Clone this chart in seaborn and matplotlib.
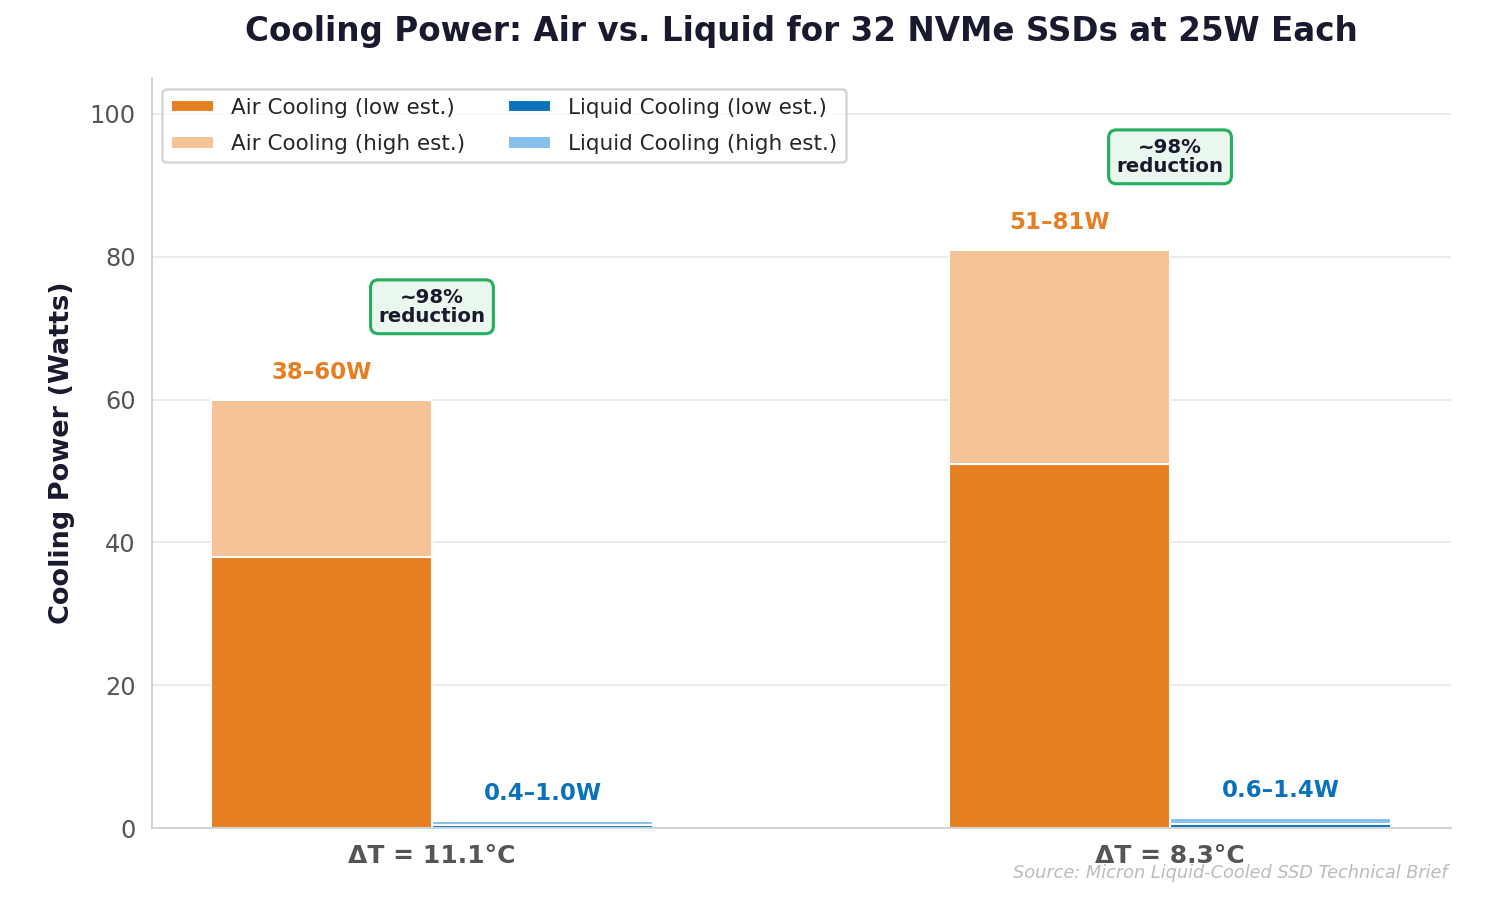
import matplotlib
matplotlib.use("Agg")

import matplotlib.pyplot as plt
import pandas as pd
import seaborn as sns
from matplotlib.patches import Patch


CONDITIONS = ["ΔT = 11.1°C", "ΔT = 8.3°C"]
METHODS = ["Air", "Liquid"]

AIR_LOW = [38, 51]
AIR_HIGH = [60, 81]
LIQUID_LOW = [0.4, 0.6]
LIQUID_HIGH = [1.0, 1.4]

AIR_LABELS = ["38–60W", "51–81W"]
LIQUID_LABELS = ["0.4–1.0W", "0.6–1.4W"]
REDUCTION_TEXT = "~98%\nreduction"

AIR_DARK = "#e67e22"
AIR_LIGHT = "#f5c396"
LIQUID_DARK = "#0a72ba"
LIQUID_LIGHT = "#85c1e9"
NAVY = "#1a1a2e"


def main():
    df = pd.DataFrame(
        {
            "condition": CONDITIONS * 2,
            "method": ["Air"] * 2 + ["Liquid"] * 2,
            "low": AIR_LOW + LIQUID_LOW,
            "high": AIR_HIGH + LIQUID_HIGH,
        }
    )

    sns.set_style("white")
    plt.rcParams["font.family"] = ["DejaVu Sans"]

    fig, ax = plt.subplots(figsize=(10, 6), dpi=150)
    fig.subplots_adjust(left=0.101, right=0.967, bottom=0.08, top=0.913)

    # high estimate drawn full height, low estimate laid over it
    sns.barplot(
        data=df,
        x="condition",
        y="high",
        hue="method",
        hue_order=METHODS,
        palette=[AIR_LIGHT, LIQUID_LIGHT],
        saturation=1,
        width=0.6,
        errorbar=None,
        edgecolor="white",
        linewidth=1,
        legend=False,
        ax=ax,
    )
    sns.barplot(
        data=df,
        x="condition",
        y="low",
        hue="method",
        hue_order=METHODS,
        palette=[AIR_DARK, LIQUID_DARK],
        saturation=1,
        width=0.6,
        errorbar=None,
        edgecolor="white",
        linewidth=1,
        legend=False,
        ax=ax,
    )

    for i in range(len(CONDITIONS)):
        ax.text(
            i - 0.15,
            AIR_HIGH[i] + 3.8,
            AIR_LABELS[i],
            ha="center",
            va="center",
            fontsize=11,
            fontweight="bold",
            color=AIR_DARK,
        )
        ax.text(
            i + 0.15,
            LIQUID_HIGH[i] + 3.9,
            LIQUID_LABELS[i],
            ha="center",
            va="center",
            fontsize=11,
            fontweight="bold",
            color=LIQUID_DARK,
        )
        ax.text(
            i,
            AIR_HIGH[i] + 13,
            REDUCTION_TEXT,
            ha="center",
            va="center",
            fontsize=9.5,
            fontweight="bold",
            color=NAVY,
            linespacing=1.0,
            bbox=dict(
                boxstyle="round,pad=0.4",
                facecolor="#eaf7ee",
                edgecolor="#27ae60",
                linewidth=1.5,
            ),
        )

    ax.set_xlim(-0.38, 1.38)
    ax.set_ylim(0, 105)
    ax.set_yticks([0, 20, 40, 60, 80, 100])
    ax.set_xlabel("")
    ax.set_ylabel(
        "Cooling Power (Watts)",
        fontsize=13,
        fontweight="bold",
        color=NAVY,
        labelpad=7,
    )
    ax.tick_params(axis="y", labelsize=11.5, colors="#555555", length=4)
    ax.tick_params(axis="x", labelsize=12, colors="#555555", length=4)
    for label in ax.get_xticklabels():
        label.set_fontweight("bold")
    ax.yaxis.grid(True, color="#e8e8e8", linewidth=0.8)
    ax.set_axisbelow(True)

    sns.despine(ax=ax)
    ax.spines["left"].set_color("#cccccc")
    ax.spines["bottom"].set_color("#cccccc")

    handles = [
        Patch(facecolor=AIR_DARK, label="Air Cooling (low est.)"),
        Patch(facecolor=AIR_LIGHT, label="Air Cooling (high est.)"),
        Patch(facecolor=LIQUID_DARK, label="Liquid Cooling (low est.)"),
        Patch(facecolor=LIQUID_LIGHT, label="Liquid Cooling (high est.)"),
    ]
    legend = ax.legend(
        handles=handles,
        loc="upper left",
        ncol=2,
        fontsize=10.3,
        frameon=True,
        fancybox=True,
        edgecolor="#cccccc",
        handlelength=2.0,
        handleheight=0.55,
        labelspacing=0.75,
        columnspacing=2.0,
    )
    legend.get_frame().set_linewidth(1.2)

    fig.suptitle(
        "Cooling Power: Air vs. Liquid for 32 NVMe SSDs at 25W Each",
        x=0.534,
        y=0.965,
        va="center",
        fontsize=15.7,
        fontweight="bold",
        color=NAVY,
    )
    fig.text(
        0.965,
        0.03,
        "Source: Micron Liquid-Cooled SSD Technical Brief",
        ha="right",
        va="center",
        fontsize=8.5,
        style="italic",
        color="#bbbbbb",
    )

    fig.savefig("out.png", dpi=150)
    plt.close(fig)


if __name__ == "__main__":
    main()
